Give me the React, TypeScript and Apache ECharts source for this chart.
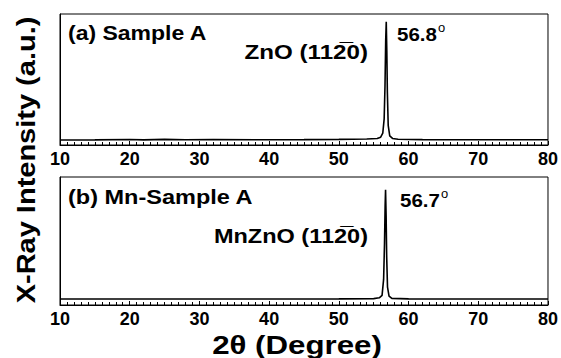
import React, { useEffect, useRef } from "react";
import * as echarts from "echarts";

const xTicks = [10, 20, 30, 40, 50, 60, 70, 80];

const sampleA: [number, number][] = [
  [10, 3.8], [15, 3.9], [20, 4.2], [22, 3.9], [25, 4.3], [28, 4.0], [32, 4.1], [38, 4.0],
  [45, 4.1], [50, 4.3], [54, 4.6], [55.5, 5.0], [56.0, 6.0], [56.3, 9], [56.5, 20],
  [56.62, 45], [56.72, 80], [56.8, 94], [56.88, 72], [56.96, 40], [57.08, 15],
  [57.3, 7], [57.7, 5], [58.5, 4.4], [62, 4.1], [70, 4.0], [80, 4.0],
];

const sampleB: [number, number][] = [
  [10, 4.7], [20, 4.7], [30, 4.7], [40, 4.7], [50, 4.8], [55, 5.0], [55.8, 5.6],
  [56.2, 7.5], [56.42, 20], [56.55, 48], [56.64, 78], [56.7, 90], [56.78, 70],
  [56.86, 38], [56.98, 14], [57.2, 7], [57.6, 5.2], [60, 4.8], [70, 4.7], [80, 4.7],
];

const FONT = "Liberation Sans, Arial, sans-serif";

export default function App() {
  const ref = useRef<HTMLDivElement>(null);
  useEffect(() => {
    if (!ref.current) return;
    const chart = echarts.init(ref.current, undefined, { renderer: "svg" });
    const xAxisBase = (gridIndex: number) => ({
      type: "value",
      gridIndex,
      min: 10,
      max: 80,
      interval: 10,
      axisLine: { show: true, lineStyle: { color: "#000", width: 1 } },
      axisTick: { show: true, inside: true, length: 4, lineStyle: { color: "#000" } },
      minorTick: { show: true, splitNumber: 10, length: 3, lineStyle: { color: "#000" } },
      splitLine: { show: false },
      axisLabel: {
        color: "#000",
        fontSize: 18,
        fontWeight: "bold",
        fontFamily: FONT,
        margin: 5,
        formatter: (v: number) => (xTicks.includes(v) ? String(v) : ""),
      },
    });
    const yAxisBase = (gridIndex: number) => ({
      type: "value",
      gridIndex,
      min: 0,
      max: 100,
      axisLine: { show: true, lineStyle: { color: "#000", width: 1 } },
      axisTick: { show: false },
      axisLabel: { show: false },
      splitLine: { show: false },
    });
    const ts = (fontSize: number) => ({
      fill: "#000",
      fontSize,
      fontWeight: "bold",
      fontFamily: FONT,
    });
    const degRich = (size: number) => ({
      n: { fontSize: size, fontWeight: "bold", fontFamily: FONT, color: "#000" },
      d: { fontSize: 12, fontFamily: FONT, color: "#000", verticalAlign: "top", padding: [0, 0, 12, 1] },
    });
    chart.setOption({
      animation: false,
      backgroundColor: "#fff",
      grid: [
        { left: 60, right: 13, top: 14, height: 131, show: true, borderColor: "#000", borderWidth: 1 },
        { left: 60, right: 13, top: 177, height: 128, show: true, borderColor: "#000", borderWidth: 1 },
      ],
      xAxis: [xAxisBase(0), xAxisBase(1)],
      yAxis: [yAxisBase(0), yAxisBase(1)],
      series: [
        {
          type: "line",
          xAxisIndex: 0,
          yAxisIndex: 0,
          data: sampleA,
          showSymbol: false,
          lineStyle: { color: "#000", width: 1.6 },
        },
        {
          type: "line",
          xAxisIndex: 1,
          yAxisIndex: 1,
          data: sampleB,
          showSymbol: false,
          lineStyle: { color: "#000", width: 1.6 },
        },
      ],
      graphic: [
        { type: "text", x: 68, y: 33, scaleX: 1.15, style: { ...ts(20), text: "(a) Sample A", verticalAlign: "middle" } },
        { type: "text", x: 368, y: 52, scaleX: 1.15, style: { ...ts(21), text: "ZnO (112\u03050)", align: "right", verticalAlign: "middle" } },
        { type: "text", x: 397, y: 34, scaleX: 1.08, style: { text: "{n|56.8}{d|o}", verticalAlign: "middle", rich: degRich(19) } },
        { type: "text", x: 68, y: 197, scaleX: 1.12, style: { ...ts(21), text: "(b) Mn-Sample A", verticalAlign: "middle" } },
        { type: "text", x: 368, y: 236, scaleX: 1.12, style: { ...ts(21), text: "MnZnO (112\u03050)", align: "right", verticalAlign: "middle" } },
        { type: "text", x: 400, y: 200, scaleX: 1.08, style: { text: "{n|56.7}{d|o}", verticalAlign: "middle", rich: degRich(19) } },
        { type: "text", x: 297, y: 345, scaleX: 1.25, style: { ...ts(25), text: "2θ (Degree)", align: "center", verticalAlign: "middle" } },
        {
          type: "text",
          x: 26,
          y: 160,
          rotation: Math.PI / 2,
          scaleX: 1.16,
          style: { ...ts(25), text: "X-Ray Intensity (a.u.)", align: "center", verticalAlign: "middle" },
        },
      ],
    });
    return () => chart.dispose();
  }, []);
  return <div ref={ref} style={{ width: 561, height: 358, position: "absolute", left: 0, top: 0 }} />;
}
